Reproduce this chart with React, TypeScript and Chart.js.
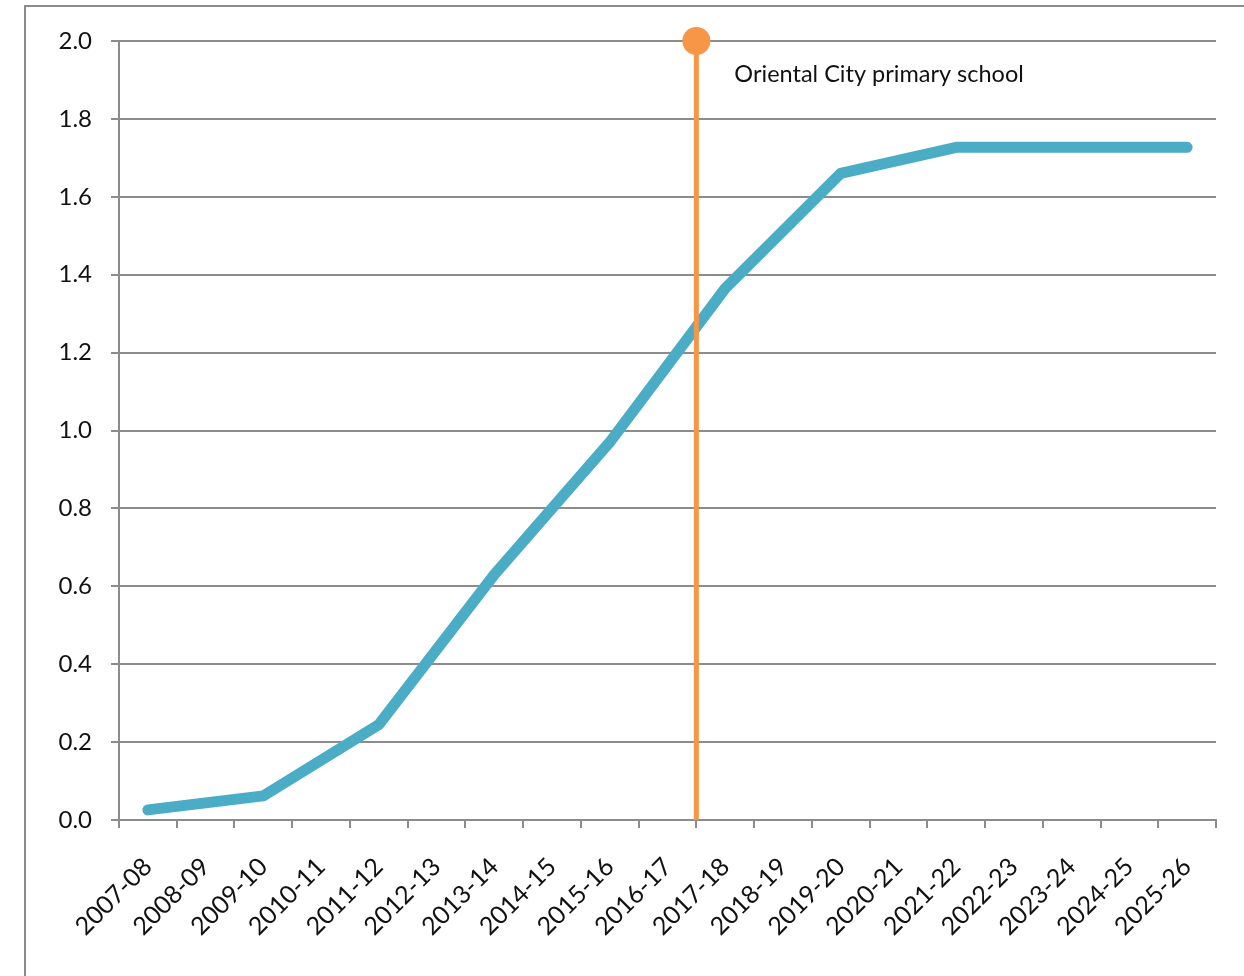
import React, { useEffect, useRef } from "react";
import { Chart, registerables } from "chart.js";

Chart.register(...registerables);

const categories = [
  "2007-08", "2008-09", "2009-10", "2010-11", "2011-12", "2012-13", "2013-14",
  "2014-15", "2015-16", "2016-17", "2017-18", "2018-19", "2019-20", "2020-21",
  "2021-22", "2022-23", "2023-24", "2024-25", "2025-26",
];

const seriesValues: (number | null)[] = [
  0.026, null, 0.062, null, 0.245, null, 0.63, null, 0.97, null, 1.365, null,
  1.66, null, 1.727, null, null, null, 1.727,
];

const markerX = 9.5; // boundary between 2016-17 and 2017-18
const markerYs = [0, 2];
const markerLabel = "Oriental City primary school";
const markerLabelX = 9.5;
const markerLabelY = 1.915;

const yTicksMin = 0;
const yTicksMax = 2;
const yTicksStep = 0.2;

const FONT = "Lato, 'Open Sans', sans-serif";
const GRID = "#8c8c8c";

export default function App() {
  const ref = useRef<HTMLCanvasElement | null>(null);

  useEffect(() => {
    if (!ref.current) return;
    const labelPlugin = {
      id: "markerLabel",
      afterDatasetsDraw(chart: any) {
        const ctx = chart.ctx;
        const xs = chart.scales.x2;
        const ys = chart.scales.y;
        ctx.save();
        ctx.font = `23.5px ${FONT}`;
        ctx.fillStyle = "#111";
        ctx.textAlign = "left";
        ctx.textBaseline = "middle";
        ctx.fillText(markerLabel, xs.getPixelForValue(markerLabelX) + 38, ys.getPixelForValue(markerLabelY));
        ctx.restore();
      },
    };

    const chart = new Chart(ref.current, {
      type: "line",
      data: {
        labels: categories,
        datasets: [
          {
            label: "marker",
            data: markerYs.map((y) => ({ x: markerX, y })),
            xAxisID: "x2",
            borderColor: "#F79646",
            borderWidth: 5,
            pointRadius: markerYs.map((_, i) => (i === markerYs.length - 1 ? 14 : 0)),
            pointBackgroundColor: "#F79646",
            pointBorderWidth: 0,
            clip: false as any,
            order: 0,
          } as any,
          {
            label: "series",
            data: seriesValues,
            borderColor: "#4BACC6",
            borderWidth: 11,
            pointRadius: 0,
            spanGaps: true,
            tension: 0,
            borderCapStyle: "round",
            borderJoinStyle: "round",
            clip: false as any,
            order: 1,
          } as any,
        ],
      },
      options: {
        responsive: false,
        animation: false,
        layout: { padding: { left: 0, top: 41, right: 28, bottom: 0 } },
        plugins: { legend: { display: false }, tooltip: { enabled: false } },
        scales: {
          x: {
            type: "category",
            offset: true,
            grid: {
              display: true,
              drawOnChartArea: false,
              drawTicks: true,
              tickLength: 8,
              offset: true,
              color: GRID,
              lineWidth: 2,
            },
            border: { display: true, color: GRID, width: 2 },
            ticks: {
              maxRotation: 45,
              minRotation: 45,
              autoSkip: false,
              padding: 24,
              color: "#111",
              font: { family: FONT, size: 25 },
            },
            afterFit(scale: any) {
              scale.height = 156;
            },
          },
          x2: {
            type: "linear",
            display: false,
            min: -0.5,
            max: categories.length - 0.5,
          },
          y: {
            min: yTicksMin,
            max: yTicksMax,
            grid: { color: GRID, lineWidth: 2, tickLength: 8, drawTicks: true },
            border: { display: true, color: GRID, width: 2 },
            ticks: {
              stepSize: yTicksStep,
              padding: 19,
              color: "#111",
              font: { family: FONT, size: 24 },
              callback: (v: any) => Number(v).toFixed(1),
            },
            afterFit(scale: any) {
              scale.width = 119;
            },
          },
        },
      },
      plugins: [labelPlugin],
    } as any);
    return () => chart.destroy();
  }, []);

  return (
    <div
      style={{
        position: "fixed",
        left: 0,
        top: 0,
        width: 1244,
        height: 976,
        overflow: "hidden",
        background: "#fff",
      }}
    >
      <div
        style={{
          position: "absolute",
          left: 24,
          top: 5,
          width: 1400,
          height: 1200,
          border: "2px solid #8c8c8c",
        }}
      />
      <canvas
        ref={ref}
        width={1244}
        height={976}
        style={{ position: "absolute", left: 0, top: 0, width: 1244, height: 976 }}
      />
    </div>
  );
}
